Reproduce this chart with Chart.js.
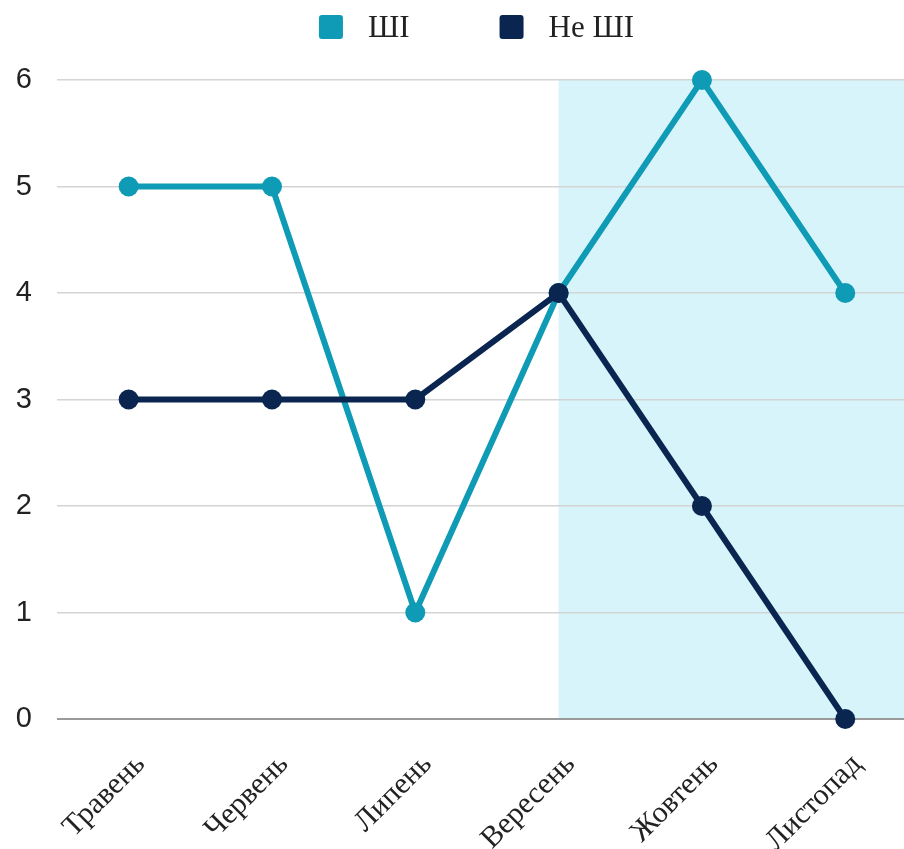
<!DOCTYPE html>
<html lang="uk">
<head>
<meta charset="utf-8">
<title>ШІ / Не ШІ</title>
<script src="https://cdn.jsdelivr.net/npm/chart.js@4"></script>
<style>
  html, body { margin: 0; padding: 0; background: #fff; }
  #wrap { width: 904px; height: 849px; }
</style>
</head>
<body>
<div id="wrap"><canvas id="monthChart"></canvas></div>
<script>
const months = ['Травень', 'Червень', 'Липень', 'Вересень', 'Жовтень', 'Листопад'];
const aiValues = [5, 5, 1, 4, 6, 4];
const nonAiValues = [3, 3, 3, 4, 2, 0];
const yTicks = [0, 1, 2, 3, 4, 5, 6];
const shadeFrom = 3; // highlighted period starts at Вересень

const TEAL = '#0f9bb5';
const NAVY = '#0a2650';
const SHADE = '#d6f4fa';
const TEXT = '#222';

// light cyan band behind the autumn months, drawn before the grid
const shadePlugin = {
  id: 'shade',
  beforeDraw(chart) {
    const { ctx, chartArea, scales: { x, y } } = chart;
    const left = x.getPixelForValue(shadeFrom);
    const top = y.getPixelForValue(yTicks[yTicks.length - 1]);
    const bottom = y.getPixelForValue(yTicks[0]);
    ctx.save();
    ctx.fillStyle = SHADE;
    ctx.fillRect(left, top, chartArea.right - left, bottom - top);
    ctx.restore();
  }
};

// simple legend on top: rounded square + label, centered over the plot
const legendPlugin = {
  id: 'topLegend',
  afterDraw(chart) {
    const { ctx, chartArea } = chart;
    const box = 24, gapText = 25, gapItem = 90;
    ctx.save();
    ctx.font = '31px "Liberation Serif", serif';
    ctx.textBaseline = 'middle';
    const items = chart.data.datasets.map(ds => ({
      text: ds.label, color: ds.borderColor, w: ctx.measureText(ds.label).width
    }));
    let total = items.reduce((s, it) => s + box + gapText + it.w, 0) + gapItem * (items.length - 1);
    let x = (chartArea.left + chartArea.right) / 2 - 4 - total / 2;
    const cy = 27;
    items.forEach(it => {
      ctx.fillStyle = it.color;
      ctx.beginPath();
      ctx.roundRect(x, cy - box / 2, box, box, 3);
      ctx.fill();
      ctx.fillStyle = TEXT;
      ctx.fillText(it.text, x + box + gapText, cy + 2);
      x += box + gapText + it.w + gapItem;
    });
    ctx.restore();
  }
};

const ctx = document.getElementById('monthChart').getContext('2d');

new Chart(ctx, {
  type: 'line',
  data: {
    datasets: [
      {
        label: 'ШІ',
        data: aiValues.map((v, i) => ({ x: i, y: v })),
        borderColor: TEAL,
        backgroundColor: TEAL,
        order: 1
      },
      {
        label: 'Не ШІ',
        data: nonAiValues.map((v, i) => ({ x: i, y: v })),
        borderColor: NAVY,
        backgroundColor: NAVY,
        order: 0
      }
    ]
  },
  options: {
    responsive: true,
    maintainAspectRatio: false,
    animation: false,
    layout: { autoPadding: false, padding: { top: 80, right: 0, bottom: 0, left: 0 } },
    elements: {
      line: { borderWidth: 6, tension: 0 },
      point: { radius: 10, borderWidth: 0, hoverRadius: 10 }
    },
    datasets: { line: { clip: false } },
    plugins: {
      legend: { display: false },
      tooltip: { enabled: false }
    },
    scales: {
      x: {
        type: 'linear',
        min: -0.5,
        max: 5.41,
        afterBuildTicks: scale => { scale.ticks = months.map((_, i) => ({ value: i })); },
        afterFit: scale => {
          scale.height = 130;
          scale.paddingLeft = 0;
          scale.paddingRight = 0;
        },
        grid: { display: false },
        border: { display: false },
        ticks: {
          autoSkip: false,
          minRotation: 45,
          maxRotation: 45,
          padding: 20,
          labelOffset: 12,
          color: TEXT,
          font: { family: '"Liberation Serif", serif', size: 30 },
          callback: value => months[value]
        }
      },
      y: {
        min: 0,
        max: 6,
        afterBuildTicks: scale => { scale.ticks = yTicks.map(v => ({ value: v })); },
        afterFit: scale => { scale.width = 57; },
        border: { display: false },
        grid: {
          drawTicks: false,
          lineWidth: ctx => ctx.tick.value === 0 ? 2 : 1.5,
          color: ctx => ctx.tick.value === 0 ? '#9a9a9a' : '#d4d4d4'
        },
        ticks: {
          padding: 25,
          color: TEXT,
          font: { family: '"Liberation Sans", Arial, sans-serif', size: 29 }
        }
      }
    }
  },
  plugins: [shadePlugin, legendPlugin]
});
</script>
</body>
</html>
